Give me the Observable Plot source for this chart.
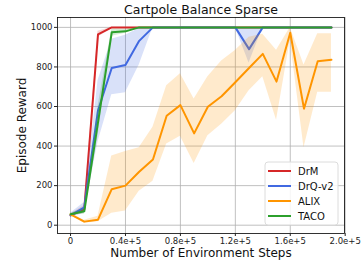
<!DOCTYPE html>
<html>
<head>
<meta charset="utf-8">
<script src="https://cdn.jsdelivr.net/npm/d3@7"></script>
<script src="https://cdn.jsdelivr.net/npm/@observablehq/plot@0.6"></script>
<style>
  html, body { margin: 0; padding: 0; background: white; }
</style>
</head>
<body>
<div id="chart"></div>
<script>
const title = "Cartpole Balance Sparse";
const xLabel = "Number of Environment Steps";
const yLabel = "Episode Reward";

const steps = [0, 10000, 20000, 30000, 40000, 50000, 60000, 70000, 80000, 90000,
  100000, 110000, 120000, 130000, 140000, 150000, 160000, 170000, 180000, 190000];

const drm   = [50, 80, 965, 1000, 1000, 1000, 1000, 1000, 1000, 1000, 1000, 1000, 1000, 1000, 1000, 1000, 1000, 1000, 1000, 1000];
const drmLo = [45, 60, 950, 995, 1000, 1000, 1000, 1000, 1000, 1000, 1000, 1000, 1000, 1000, 1000, 1000, 1000, 1000, 1000, 1000];
const drmHi = [55, 100, 980, 1000, 1000, 1000, 1000, 1000, 1000, 1000, 1000, 1000, 1000, 1000, 1000, 1000, 1000, 1000, 1000, 1000];

const drq   = [50, 90, 580, 795, 810, 932, 1000, 1000, 1000, 1000, 1000, 1000, 1000, 890, 1000, 1000, 1000, 1000, 1000, 1000];
const drqLo = [40, 60, 420, 660, 670, 810, 1000, 1000, 1000, 1000, 1000, 1000, 1000, 820, 1000, 1000, 1000, 1000, 1000, 1000];
const drqHi = [60, 115, 730, 940, 960, 995, 1000, 1000, 1000, 1000, 1000, 1000, 1000, 1000, 1000, 1000, 1000, 1000, 1000, 1000];

const alix   = [55, 18, 28, 182, 200, 270, 332, 553, 607, 464, 599, 652, 723, 795, 866, 726, 973, 589, 829, 836];
const alixLo = [50, 10, 18, 60, 72, 172, 222, 411, 450, 312, 452, 510, 579, 680, 750, 530, 935, 392, 672, 672];
const alixHi = [60, 25, 45, 350, 372, 392, 495, 705, 766, 638, 750, 830, 883, 950, 965, 885, 1000, 810, 968, 968];

const taco   = [55, 70, 520, 975, 980, 1000, 1000, 1000, 1000, 1000, 1000, 1000, 1000, 1000, 1000, 1000, 1000, 1000, 1000, 1000];
const tacoLo = [50, 55, 450, 955, 970, 1000, 1000, 1000, 1000, 1000, 1000, 1000, 1000, 1000, 1000, 1000, 1000, 1000, 1000, 1000];
const tacoHi = [60, 85, 600, 990, 990, 1000, 1000, 1000, 1000, 1000, 1000, 1000, 1000, 1000, 1000, 1000, 1000, 1000, 1000, 1000];

const seriesNames = ["DrM", "DrQ-v2", "ALIX", "TACO"];
const seriesColors = ["#d62728", "#4169e1", "#ff9500", "#2ca02c"];

const xTicks = [0, 40000, 80000, 120000, 160000, 200000];
const xTickLabels = ["0", "0.4e+5", "0.8e+5", "1.2e+5", "1.6e+5", "2.0e+5"];
const yTicks = [0, 200, 400, 600, 800, 1000];
const yTickLabels = ["0", "200", "400", "600", "800", "1000"];

const seriesData = [
  [drm, drmLo, drmHi],
  [drq, drqLo, drqHi],
  [alix, alixLo, alixHi],
  [taco, tacoLo, tacoHi]
];

const rows = [];
seriesData.forEach(([m, lo, hi], si) => {
  steps.forEach((s, i) => rows.push({series: seriesNames[si], step: s, mean: m[i], lo: lo[i], hi: hi[i]}));
});

const font = "DejaVu Sans";
const marks = [
  Plot.gridX(xTicks, {stroke: "#b0b0b0", strokeOpacity: 1, strokeWidth: 0.8}),
  Plot.gridY(yTicks, {stroke: "#b0b0b0", strokeOpacity: 1, strokeWidth: 0.8})
];
seriesNames.forEach((name, si) => {
  const d = rows.filter(r => r.series === name);
  marks.push(Plot.areaY(d, {x: "step", y1: "lo", y2: "hi", fill: seriesColors[si], fillOpacity: 0.2}));
  marks.push(Plot.line(d, {x: "step", y: "mean", stroke: seriesColors[si], strokeWidth: 2}));
});
marks.push(
  Plot.frame({stroke: "#000", strokeWidth: 0.8}),
  Plot.axisX(xTicks, {tickSize: 3, tickPadding: 1.5, label: null, fontSize: 8.5,
    tickFormat: d => xTickLabels[xTicks.indexOf(d)]}),
  Plot.axisY(yTicks, {tickSize: 3, tickPadding: 2, label: null, fontSize: 8.5,
    tickFormat: d => yTickLabels[yTicks.indexOf(d)]}),
  Plot.text([title], {frameAnchor: "top", dy: -8, lineAnchor: "middle", textAnchor: "middle", fontSize: 12.5, fill: "#111"}),
  Plot.text([xLabel], {frameAnchor: "bottom", dy: 20, lineAnchor: "middle", textAnchor: "middle", fontSize: 12, fill: "#111"}),
  Plot.text([yLabel], {frameAnchor: "left", dx: -35, rotate: -90, lineAnchor: "middle", textAnchor: "middle", fontSize: 12, fill: "#111"})
);

const svg = Plot.plot({
  width: 362,
  height: 264,
  marginLeft: 57,
  marginRight: 18,
  marginTop: 17,
  marginBottom: 31,
  style: {fontFamily: font, fontSize: "8.5px", color: "#222", background: "white", overflow: "visible"},
  x: {domain: [-9500, 199500]},
  y: {domain: [-42, 1050]},
  marks
});

// Legend
const lg = d3.select(svg).append("g").attr("font-family", font).attr("font-size", 10).attr("text-anchor", "start");
lg.append("rect").attr("x", 265).attr("y", 162).attr("width", 73).attr("height", 63)
  .attr("rx", 3).attr("fill", "white").attr("fill-opacity", 0.85).attr("stroke", "#dcdcdc");
seriesNames.forEach((name, i) => {
  const y = 171 + i * 15;
  lg.append("line").attr("x1", 268).attr("x2", 291).attr("y1", y).attr("y2", y)
    .attr("stroke", seriesColors[i]).attr("stroke-width", 2);
  lg.append("text").attr("x", 298).attr("y", y).attr("dy", "0.35em").attr("fill", "#111").text(name);
});

document.getElementById("chart").appendChild(svg);
</script>
</body>
</html>
